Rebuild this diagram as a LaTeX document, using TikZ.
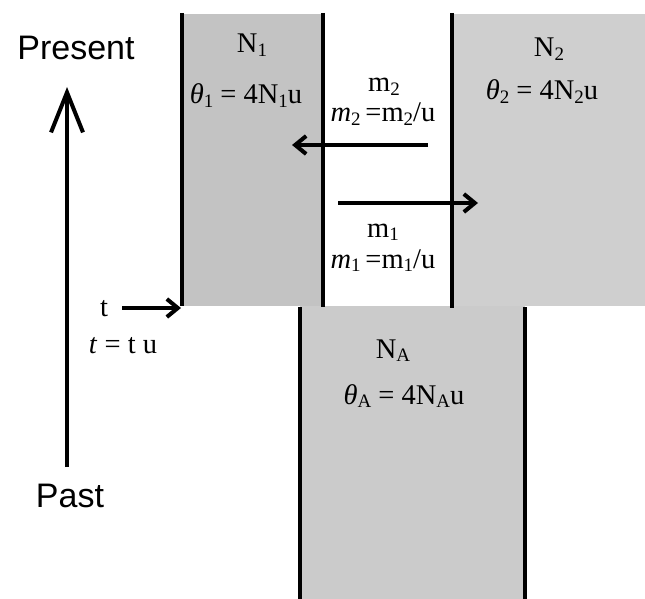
\documentclass[tikz,border=0pt]{standalone}
\usepackage{fontspec}
\setmainfont{Liberation Serif}
\newfontfamily\labelsans{Liberation Sans}
\usetikzlibrary{arrows.meta}
\newcommand\lowsub[1]{\raisebox{-0.28ex}{\fontsize{19}{19}\selectfont #1}}
\definecolor{grayleft}{RGB}{195,195,195}
\definecolor{grayright}{RGB}{207,207,207}
\definecolor{grayanc}{RGB}{203,203,203}
\begin{document}
\begin{tikzpicture}[x=1pt,y=-1pt,
  wall/.style={line width=4pt,black},
  lbl/.style={font=\fontsize{28.5}{30}\selectfont,inner sep=0pt,anchor=base},
  sanslbl/.style={font=\labelsans\fontsize{34}{36}\selectfont,inner sep=0pt,anchor=base},
  migr/.style={line width=4pt,-{Straight Barb[length=11pt,width=18pt]}},
  timearrow/.style={line width=4pt,-{Straight Barb[length=40pt,width=32pt]}}]
\useasboundingbox (0,0) rectangle (645,599);
% populations
\fill[grayleft] (182,14) rectangle (323,306);
\fill[grayright] (452,14) rectangle (645,306);
\fill[grayanc] (300,306) rectangle (525,599);
% walls
\draw[wall] (182,13) -- (182,306);
\draw[wall] (323,13) -- (323,307);
\draw[wall] (452,13) -- (452,308);
\draw[wall] (300,307) -- (300,599);
\draw[wall] (525,307) -- (525,599);
% labels
\node[lbl] (n1) at (252,53) {N\lowsub{1}};
\node[lbl] (th1) at (246,104) {\textit{θ}\lowsub{1} = 4N\lowsub{1}u};
\node[lbl] (n2) at (549,57) {N\lowsub{2}};
\node[lbl] (th2) at (542,100) {\textit{θ}\lowsub{2} = 4N\lowsub{2}u};
\node[lbl] (m2) at (384,92) {m\lowsub{2}};
\node[lbl] (m2s) at (383,122) {\textit{m}\lowsub{2}\,=m\lowsub{2}/u};
\node[lbl] (m1) at (383,237) {m\lowsub{1}};
\node[lbl] (m1s) at (383,268) {\textit{m}\lowsub{1}\,=m\lowsub{1}/u};
\node[lbl] (na) at (393,358) {N\lowsub{A}};
\node[lbl] (tha) at (404,404) {\textit{θ}\lowsub{A} = 4N\lowsub{A}u};
\node[lbl] (tt) at (104,316) {t};
\node[lbl] (tts) at (123,353) {\textit{t} = t u};
\node[sanslbl] (present) at (76,60) {Present};
\node[sanslbl] (past) at (70,507) {Past};
% arrows
\coordinate (m2start) at (428,145);
\coordinate (m2end) at (292,145);
\coordinate (m1start) at (338,203);
\coordinate (m1end) at (478,203);
\coordinate (tstart) at (122,308);
\coordinate (tend) at (181,308);
\coordinate (timebottom) at (67,467);
\coordinate (timetop) at (67,87);
\draw[migr] (m2start) -- (m2end);
\draw[migr] (m1start) -- (m1end);
\draw[migr] (tstart) -- (tend);
\draw[timearrow] (timebottom) -- (timetop);
\end{tikzpicture}
\end{document}
